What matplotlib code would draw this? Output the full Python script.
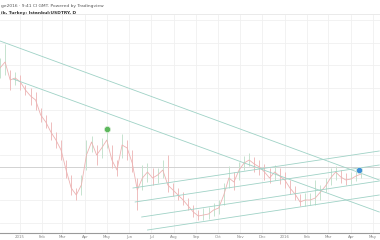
import numpy as np
import pandas as pd
import matplotlib
matplotlib.use("Agg")
import matplotlib.pyplot as plt

# weekly bars, USDTRY chart
dates = pd.date_range("2014-12-05", periods=72, freq="7D")
close = [3.65, 3.71, 3.53, 3.55, 3.51, 3.43, 3.37, 3.33, 3.18, 3.11, 3.01, 2.93,
         2.83, 2.63, 2.45, 2.38, 2.48, 2.78, 2.91, 2.78, 2.85, 2.93, 2.73, 2.63,
         2.88, 2.85, 2.70, 2.43, 2.55, 2.61, 2.55, 2.58, 2.63, 2.48, 2.43, 2.38,
         2.33, 2.27, 2.21, 2.17, 2.18, 2.19, 2.23, 2.25, 2.38, 2.55, 2.51, 2.63,
         2.70, 2.73, 2.69, 2.66, 2.61, 2.55, 2.61, 2.57, 2.53, 2.45, 2.39, 2.31,
         2.33, 2.33, 2.35, 2.41, 2.47, 2.55, 2.61, 2.56, 2.53, 2.54, 2.57, 2.59]
high = [3.75, 3.89, 3.63, 3.61, 3.58, 3.48, 3.45, 3.41, 3.25, 3.18, 3.11, 3.01,
        2.93, 2.73, 2.58, 2.45, 2.58, 2.93, 2.97, 2.88, 2.95, 3.01, 2.88, 2.73,
        2.99, 2.93, 2.83, 2.55, 2.68, 2.70, 2.65, 2.65, 2.73, 2.78, 2.50, 2.45,
        2.41, 2.35, 2.28, 2.23, 2.25, 2.26, 2.30, 2.33, 2.50, 2.67, 2.61, 2.71,
        2.77, 2.80, 2.76, 2.73, 2.69, 2.65, 2.68, 2.65, 2.61, 2.53, 2.47, 2.39,
        2.40, 2.40, 2.53, 2.48, 2.55, 2.65, 2.67, 2.63, 2.60, 2.61, 2.63, 2.65]
low = [3.55, 3.58, 3.43, 3.48, 3.43, 3.38, 3.28, 3.23, 3.11, 3.05, 2.93, 2.85,
       2.73, 2.55, 2.38, 2.33, 2.38, 2.63, 2.81, 2.68, 2.75, 2.85, 2.65, 2.57,
       2.75, 2.73, 2.61, 2.23, 2.43, 2.51, 2.48, 2.50, 2.55, 2.41, 2.37, 2.33,
       2.28, 2.23, 2.16, 2.13, 2.13, 2.14, 2.17, 2.19, 2.28, 2.45, 2.43, 2.53,
       2.63, 2.67, 2.61, 2.58, 2.53, 2.50, 2.53, 2.49, 2.45, 2.39, 2.33, 2.27,
       2.27, 2.28, 2.28, 2.33, 2.41, 2.48, 2.53, 2.50, 2.48, 2.49, 2.52, 2.55]

# trend lines: (start date, start price, end date, end price)
down_lines = [("2014-12-05", 3.92, "2016-05-10", 2.53),
              ("2014-12-23", 3.54, "2016-05-10", 2.21)]
up_lines = [("2015-06-06", 2.45, "2016-05-10", 2.82),
            ("2015-06-09", 2.31, "2016-05-10", 2.68),
            ("2015-06-18", 2.16, "2016-05-10", 2.52),
            ("2015-06-26", 2.03, "2016-05-10", 2.38)]
level = 2.66
events = [("2015-05-01", 3.04, "#5cb85c"), ("2016-04-12", 2.63, "#3f8fd8")]
month_labels = ["2015", "Feb", "Mar", "Apr", "May", "Jun", "Jul", "Aug", "Sep",
                "Oct", "Nov", "Dec", "2016", "Feb", "Mar", "Apr", "May"]

fig = plt.figure(figsize=(3.8, 2.4), dpi=100)
ax = fig.add_axes([0, 7 / 240, 1, 218 / 240])
ax.set_xlim(pd.Timestamp("2014-12-05"), pd.Timestamp("2016-05-11"))
ax.set_ylim(2.00, 4.18)

ticks = pd.date_range("2015-01-01", "2016-05-01", freq="MS")
ax.set_xticks(ticks)
ax.set_xticklabels(month_labels)
ax.set_yticks(np.arange(2.10, 4.18, 0.225))
ax.grid(True, color="#f0f0f0", lw=0.6)
ax.set_axisbelow(True)
ax.tick_params(axis="x", length=0, labelsize=2.8, colors="#888888", pad=1.5)
ax.tick_params(axis="y", left=False, labelleft=False)
for s in ["top", "left", "right"]:
    ax.spines[s].set_visible(False)
ax.spines["bottom"].set_color("#9a9a9a")
ax.spines["bottom"].set_linewidth(0.8)

ax.axhline(level, color="#d2d2d2", lw=0.7, zorder=1)

prev = [close[0]] + close[:-1]
cols = ["#c6e3cf" if c >= p else "#efbdbd" for c, p in zip(close, prev)]
ax.vlines(dates, low, high, colors=cols, lw=0.7, zorder=2)
ax.plot(dates, close, color="#ecb3b3", lw=0.6, zorder=3)

for d0, p0, d1, p1 in down_lines + up_lines:
    ax.plot([pd.Timestamp(d0), pd.Timestamp(d1)], [p0, p1],
            color="#9fd2c6", lw=0.6, zorder=4)

for d, p, c in events:
    ax.plot(pd.Timestamp(d), p, "o", ms=4.5, color=c, mec="#dff0df", mew=0.5, zorder=5)

fig.text(0.003, 0.985, "ge2016 · 9:41 Cl GMT. Powered by Tradingview",
         fontsize=3.2, color="#555555", va="top")
fig.text(0.003, 0.955, "ib, Turkey: Istanbul:USDTRY, D",
         fontsize=3.2, color="#333333", va="top", weight="bold")
line = plt.Line2D([0, 1], [0.94, 0.94], transform=fig.transFigure, color="#e6e6e6", lw=0.6)
fig.add_artist(line)

fig.savefig("out.png", dpi=100)
